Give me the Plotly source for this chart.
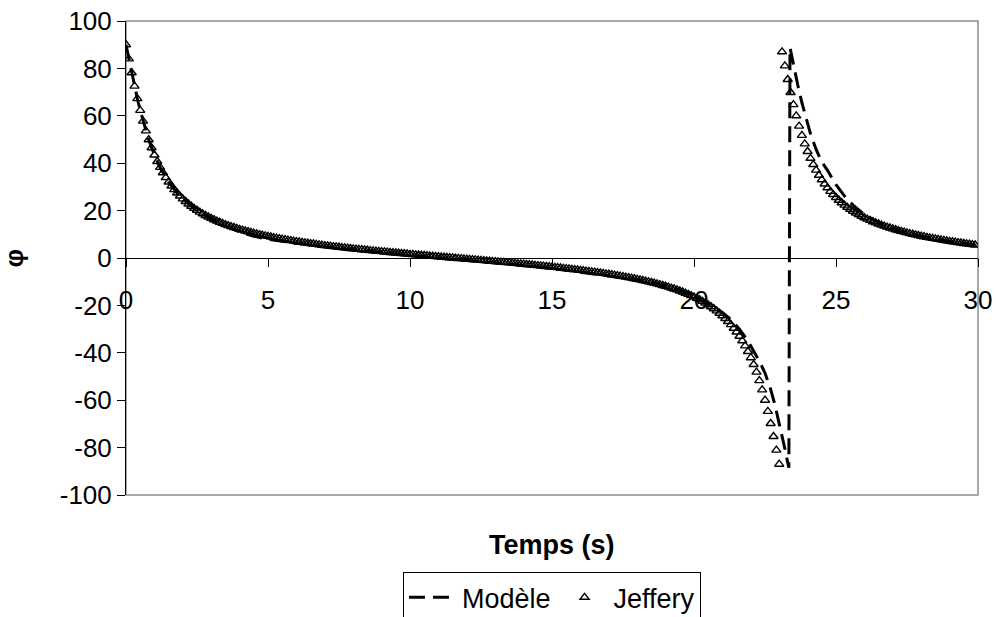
import plotly.graph_objects as go

# ---- Jeffery series (t = 0.0 .. 29.9 s, step 0.1) ----
jeffery_t = [round(i * 0.1, 1) for i in range(300)]
jeffery_phi = [
    90.00, 84.01, 78.16, 72.53, 67.23, 62.30, 57.77, 53.64, 49.90, 46.52,
    43.47, 40.71, 38.22, 35.99, 33.94, 32.09, 30.40, 28.85, 27.44, 26.14,
    24.94, 23.83, 22.81, 21.86, 20.96, 20.14, 19.36, 18.64, 17.95, 17.31,
    16.70, 16.13, 15.59, 15.08, 14.59, 14.12, 13.69, 13.26, 12.86, 12.48,
    12.10, 11.76, 11.41, 11.08, 10.77, 10.46, 10.18, 9.90, 9.63, 9.37,
    9.11, 8.87, 8.62, 8.39, 8.17, 7.95, 7.74, 7.53, 7.33, 7.14,
    6.95, 6.77, 6.59, 6.41, 6.23, 6.06, 5.90, 5.74, 5.58, 5.42,
    5.26, 5.12, 4.97, 4.83, 4.68, 4.54, 4.41, 4.28, 4.14, 4.01,
    3.88, 3.76, 3.63, 3.51, 3.38, 3.26, 3.14, 3.02, 2.91, 2.79,
    2.67, 2.56, 2.45, 2.33, 2.22, 2.11, 2.00, 1.89, 1.79, 1.68,
    1.57, 1.47, 1.36, 1.26, 1.15, 1.05, 0.95, 0.84, 0.74, 0.63,
    0.53, 0.43, 0.33, 0.23, 0.13, 0.03, -0.08, -0.18, -0.28, -0.38,
    -0.48, -0.58, -0.69, -0.79, -0.90, -1.00, -1.10, -1.21, -1.31, -1.42,
    -1.52, -1.63, -1.73, -1.84, -1.95, -2.06, -2.16, -2.28, -2.39, -2.50,
    -2.61, -2.73, -2.85, -2.96, -3.08, -3.20, -3.32, -3.45, -3.57, -3.70,
    -3.82, -3.95, -4.08, -4.21, -4.35, -4.48, -4.61, -4.76, -4.90, -5.05,
    -5.19, -5.34, -5.50, -5.66, -5.82, -5.98, -6.14, -6.32, -6.50, -6.68,
    -6.86, -7.04, -7.24, -7.43, -7.64, -7.84, -8.06, -8.28, -8.50, -8.74,
    -8.99, -9.24, -9.50, -9.76, -10.04, -10.32, -10.61, -10.93, -11.24, -11.58,
    -11.93, -12.29, -12.67, -13.05, -13.47, -13.90, -14.35, -14.83, -15.32, -15.86,
    -16.41, -17.00, -17.62, -18.29, -18.99, -19.74, -20.54, -21.40, -22.32, -23.31,
    -24.38, -25.52, -26.78, -28.13, -29.62, -31.22, -33.00, -34.93, -37.08, -39.44,
    -42.06, -44.95, -48.17, -51.72, -55.65, -59.99, -64.71, -69.84, -75.31, -81.06,
    -87.00, 87.00, 81.06, 75.31, 69.84, 64.71, 59.99, 55.65, 51.72, 48.17,
    44.95, 42.06, 39.44, 37.08, 34.93, 33.00, 31.22, 29.62, 28.13, 26.78,
    25.52, 24.38, 23.31, 22.32, 21.40, 20.54, 19.74, 18.99, 18.29, 17.62,
    17.00, 16.41, 15.86, 15.32, 14.83, 14.35, 13.90, 13.47, 13.05, 12.67,
    12.29, 11.93, 11.58, 11.24, 10.93, 10.61, 10.32, 10.04, 9.76, 9.50,
    9.24, 8.99, 8.74, 8.50, 8.28, 8.06, 7.84, 7.64, 7.43, 7.24,
    7.04, 6.86, 6.68, 6.50, 6.32, 6.14, 5.98, 5.82, 5.66, 5.50,
]

# ---- Modèle series (dashed line) ----
model_t = [
    0.0, 0.05, 0.1, 0.2, 0.3, 0.4, 0.5, 0.6, 0.8, 1.0, 1.2, 1.5, 1.8, 2.0, 2.5,
    3.0, 3.5, 4.0, 4.5, 5.0, 5.5, 6.0, 7.0, 8.0, 9.0, 10.0, 11.0, 12.0, 13.0,
    14.0, 15.0, 16.0, 17.0, 18.0, 19.0, 19.5, 20.0, 20.5, 21.0, 21.3, 21.6,
    21.9, 22.1, 22.3, 22.5, 22.7, 22.85, 23.0, 23.1, 23.2, 23.28, 23.34,
    23.38, 23.45, 23.55, 23.65, 23.8, 23.9, 24.1, 24.3, 24.5, 24.7, 25.0,
    25.3, 25.6, 26.0, 26.5, 27.0, 27.5, 28.0, 28.5, 29.0, 29.5, 29.9,
]
model_phi = [
    90.0, 87.0, 84.0, 78.2, 72.5, 67.2, 62.3, 57.8, 49.9, 43.5, 38.2, 32.1, 27.4, 24.9, 20.1,
    16.4, 13.4, 11.0, 9.2, 7.9, 7.0, 6.2, 4.7, 3.4, 2.2, 1.1, 0.0, -1.0, -2.0,
    -3.1, -4.4, -5.9, -7.4, -9.2, -11.5, -13.5, -16.0, -19.5, -23.0, -26.0, -30.0,
    -35.0, -39.0, -43.5, -48.5, -55.5, -62.0, -69.5, -74.7, -80.5, -85.2, -88.5,
    88.8, 84.6, 78.7, 73.2, 65.5, 60.8, 52.5, 45.8, 40.5, 37.0, 30.9,
    26.1, 22.3, 18.3, 14.9, 12.5, 10.6, 9.2, 8.0, 7.0, 6.1, 5.5,
]

x_ticks = [0, 5, 10, 15, 20, 25, 30]
y_ticks = [-100, -80, -60, -40, -20, 0, 20, 40, 60, 80, 100]

FONT = "Liberation Sans, Arial, sans-serif"

fig = go.Figure()
fig.add_trace(go.Scatter(
    x=model_t, y=model_phi, mode="lines", name="Modèle",
    line=dict(color="black", width=3, dash="16px,8px"),
))
fig.add_trace(go.Scatter(
    x=jeffery_t, y=jeffery_phi, mode="markers", name="Jeffery",
    marker=dict(symbol="triangle-up-open", size=8, color="black",
                line=dict(color="black", width=1.4)),
))

# gray plot-area frame
fig.add_shape(type="rect", xref="paper", yref="paper", x0=0, y0=0, x1=1, y1=1,
              line=dict(color="#8c8c8c", width=1.5), layer="below")

fig.update_layout(
    width=996, height=617,
    margin=dict(l=126, r=18, t=21, b=122, autoexpand=False),
    paper_bgcolor="white", plot_bgcolor="white",
    font=dict(family=FONT, size=26, color="black"),
    showlegend=True,
    legend=dict(orientation="h", x=0.5, xanchor="center", y=-0.163, yanchor="top",
                bordercolor="black", borderwidth=1, bgcolor="white",
                font=dict(size=27), itemwidth=48, tracegroupgap=0),
    xaxis=dict(range=[0, 30], tickvals=x_ticks, ticktext=[str(v) for v in x_ticks],
               showgrid=False, zeroline=False, showline=True, linecolor="black",
               linewidth=1, ticks="outside", ticklen=8, tickcolor="black",
               anchor="free", position=0.5, ticklabelstandoff=11, automargin=False,
               tickfont=dict(size=26)),
    yaxis=dict(range=[-100, 100], tickvals=y_ticks, ticktext=[str(v) for v in y_ticks],
               showgrid=False, zeroline=False, showline=True, linecolor="black",
               linewidth=1, ticks="outside", ticklen=8, tickcolor="black",
               automargin=False, tickfont=dict(size=26)),
    annotations=[
        dict(text="<b>Temps (s)</b>", xref="paper", yref="paper", x=0.5, y=-0.1055,
             xanchor="center", yanchor="middle", showarrow=False,
             font=dict(size=27, family=FONT)),
        dict(text="<b>φ</b>", xref="paper", yref="paper", x=-0.131, y=0.5,
             xanchor="center", yanchor="middle", showarrow=False, textangle=-90,
             font=dict(size=26, family=FONT)),
    ],
)

fig.write_html("out.html", config={"displayModeBar": False},
               post_script="document.body.style.margin='0';document.body.style.overflow='hidden';")
